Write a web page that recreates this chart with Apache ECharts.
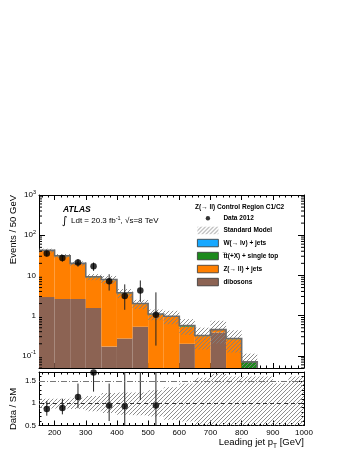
<!doctype html>
<html>
<head>
    <meta charset="utf-8">
    <title>Leading jet pT - Z control region</title>
    <script src="https://cdn.jsdelivr.net/npm/echarts@6/dist/echarts.min.js"></script>
    <style>
        html, body { margin: 0; padding: 0; background: #fff; }
    </style>
</head>
<body>
    <div id="main" style="width: 349px;height:451px;"></div>
</body>
<script type="text/javascript">
    // bin edges (GeV)
    var binEdges = [150, 200, 250, 300, 350, 400, 450, 500, 550, 600, 650, 700, 750, 800, 850, 900, 950, 1000];
    // stacked backgrounds, bottom to top
    var dibosons = [2.9, 2.6, 2.6, 1.55, 0.17, 0.27, 0.53, 0, 0, 0.2, 0, 0.38, 0, 0, 0, 0, 0];
    var zjets = [37.9, 27.5, 16.8, 7.45, 7.48, 3.33, 1.41, 1.07, 0.94, 0.33, 0.31, 0.06, 0.26, 0, 0, 0, 0];
    var ttbar = [1.2, 0.9, 0.6, 0.3, 0.25, 0.1, 0.06, 0.03, 0.03, 0.04, 0.01, 0.01, 0.01, 0.071, 0, 0, 0];
    var wjets = [0, 0, 0, 0, 0, 0, 0, 0, 0, 0, 0, 0, 0, 0, 0, 0, 0];
    // relative SM uncertainty (up / down)
    var relUp = [0.10, 0.10, 0.12, 0.16, 0.23, 0.24, 0.24, 0.29, 0.36, 0.44, 0.57, 0.66, 0.6, 0.6, 0.6, 0.45, 0.6];
    var relDn = [0.12, 0.12, 0.13, 0.18, 0.22, 0.26, 0.27, 0.30, 0.37, 0.41, 0.55, 0.55, 0.55, 0.55, 0.55, 0.55, 0.55];
    // data 2012
    var dataX = [175, 225, 275, 325, 375, 425, 475, 525];
    var dataY = [35, 27, 21, 17, 7.2, 3.1, 4.2, 1.05];
    var dataLo = [29.5, 22, 16.5, 13, 4.2, 1.4, 2.2, 0.18];
    var dataHi = [41, 32.5, 25.5, 21, 10.7, 6, 7.5, 3.8];
    // data / SM
    var ratioY = [0.87, 0.89, 1.14, 1.69, 0.95, 0.93, 2.1, 0.95];
    var ratioLo = [0.72, 0.75, 0.89, 1.26, 0.6, 0.4, 1.07, 0.1];
    var ratioHi = [1.05, 1.1, 1.44, 2.1, 1.44, 1.8, 3.2, 3.0];
    // axes
    var yMin = 0.05, yMax = 1000;
    var xMin = 150, xMax = 1000;
    var rMin = 0.5, rMax = 1.7;

    var FONT = 'Liberation Sans';

    function hatchPattern() {
        var c = document.createElement('canvas');
        c.width = 4; c.height = 4;
        var g = c.getContext('2d');
        g.strokeStyle = '#808080';
        g.lineWidth = 0.9;
        g.beginPath();
        g.moveTo(0, 4); g.lineTo(4, 0);
        g.moveTo(-1, 1); g.lineTo(1, -1);
        g.moveTo(3, 5); g.lineTo(5, 3);
        g.stroke();
        return { image: c, repeat: 'repeat' };
    }
    var hatch = hatchPattern();

    // build stacked rectangles
    var layers = [dibosons, zjets, ttbar, wjets];
    var cum = binEdges.slice(0, -1).map(function () { return 0; });
    var layerData = layers.map(function (vals) {
        var out = [];
        for (var i = 0; i < vals.length; i++) {
            var lo = cum[i], hi = cum[i] + vals[i];
            cum[i] = hi;
            if (vals[i] > 0 && hi > yMin) out.push([binEdges[i], binEdges[i + 1], Math.max(lo, yMin), hi]);
        }
        return out;
    });
    var total = cum.slice();

    var bandMain = [], bandRatio = [];
    for (var i = 0; i < total.length; i++) {
        if (total[i] > 0) bandMain.push([binEdges[i], binEdges[i + 1], total[i] * (1 - relDn[i]), total[i] * (1 + relUp[i])]);
        bandRatio.push([binEdges[i], binEdges[i + 1], 1 - relDn[i], 1 + relUp[i]]);
    }

    function renderBox(params, api) {
        var p1 = api.coord([api.value(0), api.value(3)]);
        var p2 = api.coord([api.value(1), api.value(2)]);
        return {
            type: 'rect',
            shape: { x: p1[0], y: p1[1], width: p2[0] - p1[0], height: p2[1] - p1[1] },
            style: api.style({ stroke: null })
        };
    }
    function renderErr(params, api) {
        var p1 = api.coord([api.value(0), api.value(1)]);
        var p2 = api.coord([api.value(0), api.value(2)]);
        return {
            type: 'line',
            shape: { x1: p1[0], y1: p1[1], x2: p2[0], y2: p2[1] },
            style: { stroke: '#222', lineWidth: 1 }
        };
    }
    function renderOutline(params, api) {
        var pts = [];
        var last = 0;
        for (var i = 0; i < total.length; i++) {
            if (total[i] <= 0) continue;
            pts.push(api.coord([binEdges[i], total[i]]));
            pts.push(api.coord([binEdges[i + 1], total[i]]));
            last = binEdges[i + 1];
        }
        pts.push(api.coord([last, yMin]));
        return { type: 'polyline', shape: { points: pts }, style: { stroke: '#6b6b6b', lineWidth: 1.6, fill: null } };
    }
    function renderLogMinor(params, api) {
        var kids = [];
        for (var k = -2; k <= 2; k++) {
            for (var m = 2; m <= 9; m++) {
                var v = m * Math.pow(10, k);
                if (v < yMin || v > yMax) continue;
                var pl = api.coord([xMin, v]), pr = api.coord([xMax, v]);
                kids.push({ type: 'line', shape: { x1: pl[0], y1: pl[1], x2: pl[0] + 3, y2: pl[1] }, style: { stroke: '#000', lineWidth: 1 } });
                kids.push({ type: 'line', shape: { x1: pr[0], y1: pr[1], x2: pr[0] - 3, y2: pr[1] }, style: { stroke: '#000', lineWidth: 1 } });
            }
        }
        return { type: 'group', children: kids };
    }

    function logLabel(v) {
        var l = Math.log10(v), e = Math.round(l);
        if (Math.abs(l - e) > 1e-6) return '';
        if (e === 0) return '1';
        if (e === 1) return '10';
        return '10{sup|' + e + '}';
    }
    function ratioLabel(v) {
        var r = Math.round(v * 10) / 10;
        if (r === 0.5) return '0.5';
        if (r === 1) return '1';
        if (r === 1.5) return '1.5';
        return '';
    }

    var frameLine = { show: true, onZero: false, lineStyle: { color: '#000', width: 1 } };
    function xAx(grid, pos, labels) {
        return {
            type: 'value', gridIndex: grid, position: pos, min: xMin, max: xMax, splitNumber: 8,
            axisLine: frameLine,
            axisTick: { show: true, inside: true, length: 5, lineStyle: { color: '#000' } },
            minorTick: { show: true, splitNumber: 5, length: 2.5, lineStyle: { color: '#000' } },
            axisLabel: labels ? {
                show: true, fontFamily: FONT, fontSize: 8, color: '#000', margin: 3, showMinLabel: false,
                formatter: function (v) { return String(Math.round(v)); }
            } : { show: false },
            splitLine: { show: false }
        };
    }
    function yLog(grid, pos, labels) {
        return {
            type: 'log', logBase: 10, gridIndex: grid, position: pos, min: yMin, max: yMax,
            axisLine: frameLine,
            axisTick: { show: true, inside: true, length: 6, lineStyle: { color: '#000' } },
            axisLabel: labels ? {
                show: true, fontFamily: FONT, fontSize: 8, color: '#000', margin: 3, showMinLabel: false,
                formatter: logLabel,
                rich: { sup: { fontFamily: FONT, fontSize: 5.5, verticalAlign: 'top', lineHeight: 12 } }
            } : { show: false },
            splitLine: { show: false }
        };
    }
    function yRatio(grid, pos, labels) {
        return {
            type: 'value', gridIndex: grid, position: pos, min: rMin, max: rMax, interval: 0.5,
            axisLine: frameLine,
            axisTick: { show: true, inside: true, length: 5, lineStyle: { color: '#000' } },
            minorTick: { show: true, splitNumber: 5, length: 2.5, lineStyle: { color: '#000' } },
            axisLabel: labels ? { show: true, fontFamily: FONT, fontSize: 8, color: '#000', margin: 3, formatter: ratioLabel } : { show: false },
            splitLine: { show: false }
        };
    }

    var chart = echarts.init(document.getElementById('main'));
    var option = {
        animation: false,
        backgroundColor: '#fff',
        title: {
            text: 'Z(\u2192 ll) Control Region C1/C2',
            left: 195, top: 203.5, padding: 0,
            textStyle: { fontFamily: FONT, fontSize: 6.5, fontWeight: 'bold', color: '#000' }
        },
        legend: {
            orient: 'vertical', left: 197, top: 214.5, padding: 0,
            itemWidth: 21, itemHeight: 7.5, itemGap: 4.7,
            textStyle: { fontFamily: FONT, fontSize: 6.5, lineHeight: 7.5, fontWeight: 'bold', color: '#000' },
            selectedMode: false,
            data: [
                // small dot inside a larger invisible box
                { name: 'Data 2012', icon: 'path://M0 0M12 12M2.5 6A3.5 3.5 0 1 0 9.5 6A3.5 3.5 0 1 0 2.5 6Z' },
                { name: 'Standard Model', icon: 'rect' },
                { name: 'W(\u2192 l\u03bd) + jets', icon: 'rect', itemStyle: { borderColor: '#333', borderWidth: 0.8 } },
                { name: 't\u0305t(+X) + single top', icon: 'rect', itemStyle: { borderColor: '#333', borderWidth: 0.8 } },
                { name: 'Z(\u2192 ll) + jets', icon: 'rect', itemStyle: { borderColor: '#333', borderWidth: 0.8 } },
                { name: 'dibosons', icon: 'rect', itemStyle: { borderColor: '#333', borderWidth: 0.8 } }
            ]
        },
        grid: [
            { left: 39, right: 45, top: 195, height: 173, outerBoundsMode: 'none' },
            { left: 39, right: 45, top: 372, height: 53.5, outerBoundsMode: 'none' }
        ],
        xAxis: [xAx(0, 'bottom', false), xAx(0, 'top', false), xAx(1, 'bottom', true), xAx(1, 'top', false)],
        yAxis: [yLog(0, 'left', true), yLog(0, 'right', false), yRatio(1, 'left', true), yRatio(1, 'right', false)],
        graphic: [
            { type: 'text', x: 13, y: 195, rotation: Math.PI / 2,
              style: { text: 'Events / 50 GeV', fontFamily: FONT, fontSize: 9.5, fill: '#000', align: 'right', verticalAlign: 'middle' } },
            { type: 'text', x: 13, y: 409, rotation: Math.PI / 2,
              style: { text: 'Data / SM', fontFamily: FONT, fontSize: 9.5, fill: '#000', align: 'center', verticalAlign: 'middle' } },
            { type: 'text', x: 304, y: 442,
              style: { text: 'Leading jet p{sub|T} [GeV]', fontFamily: FONT, fontSize: 9.5, fill: '#000', align: 'right', verticalAlign: 'middle',
                       rich: { sub: { fontFamily: FONT, fontSize: 6.5, verticalAlign: 'bottom', lineHeight: 15 } } } },
            { type: 'text', x: 63, y: 209.5,
              style: { text: 'ATLAS', fontFamily: FONT, fontSize: 8.5, fontWeight: 'bold', fontStyle: 'italic', fill: '#000', verticalAlign: 'middle' } },
            { type: 'text', x: 62, y: 221,
              style: { text: '\u222b', fontFamily: 'DejaVu Sans', fontSize: 11, fill: '#000', verticalAlign: 'middle' } },
            { type: 'text', x: 71, y: 221,
              style: { text: 'Ldt = 20.3 fb{sup|-1}, \u221as=8 TeV', fontFamily: FONT, fontSize: 8, fill: '#000', verticalAlign: 'middle',
                       rich: { sup: { fontFamily: FONT, fontSize: 5.5, verticalAlign: 'top', lineHeight: 12 } } } }
        ],
        series: [
            { name: 'dibosons', type: 'custom', xAxisIndex: 0, yAxisIndex: 0, clip: true, renderItem: renderBox,
              itemStyle: { color: '#8c6353' }, encode: { x: [0, 1], y: [2, 3] }, data: layerData[0] },
            { name: 'Z(\u2192 ll) + jets', type: 'custom', xAxisIndex: 0, yAxisIndex: 0, clip: true, renderItem: renderBox,
              itemStyle: { color: '#ff7f00' }, encode: { x: [0, 1], y: [2, 3] }, data: layerData[1] },
            { name: 't\u0305t(+X) + single top', type: 'custom', xAxisIndex: 0, yAxisIndex: 0, clip: true, renderItem: renderBox,
              itemStyle: { color: '#1c8a1c' }, encode: { x: [0, 1], y: [2, 3] }, data: layerData[2] },
            { name: 'W(\u2192 l\u03bd) + jets', type: 'custom', xAxisIndex: 0, yAxisIndex: 0, clip: true, renderItem: renderBox,
              itemStyle: { color: '#17a8ff' }, encode: { x: [0, 1], y: [2, 3] }, data: layerData[3] },
            { name: 'Standard Model', type: 'custom', xAxisIndex: 0, yAxisIndex: 0, clip: true, renderItem: renderBox,
              itemStyle: { color: hatch }, encode: { x: [0, 1], y: [2, 3] }, data: bandMain },
            { type: 'custom', xAxisIndex: 0, yAxisIndex: 0, clip: true, renderItem: renderOutline, silent: true, data: [[xMin, 1]] },
            { type: 'custom', xAxisIndex: 0, yAxisIndex: 0, clip: true, renderItem: renderErr, silent: true,
              data: dataX.map(function (x, i) { return [x, dataLo[i], dataHi[i]]; }) },
            { name: 'Data 2012', type: 'scatter', xAxisIndex: 0, yAxisIndex: 0, symbol: 'circle', symbolSize: 6.5,
              itemStyle: { color: '#000' }, data: dataX.map(function (x, i) { return [x, dataY[i]]; }) },
            { type: 'custom', xAxisIndex: 0, yAxisIndex: 0, clip: false, renderItem: renderLogMinor, silent: true, data: [[xMin, 1]] },
            // ratio panel
            { type: 'custom', xAxisIndex: 2, yAxisIndex: 2, clip: true, renderItem: renderBox, silent: true,
              itemStyle: { color: hatch }, encode: { x: [0, 1], y: [2, 3] }, data: bandRatio,
              markLine: {
                  silent: true, symbol: 'none', label: { show: false },
                  data: [
                      { yAxis: 1, lineStyle: { color: '#333', width: 1, type: [4, 3] } },
                      { yAxis: 1.5, lineStyle: { color: '#777', width: 1, type: [6, 2, 1, 2] } }
                  ]
              } },
            { type: 'custom', xAxisIndex: 2, yAxisIndex: 2, clip: true, renderItem: renderErr, silent: true,
              data: dataX.map(function (x, i) { return [x, ratioLo[i], ratioHi[i]]; }) },
            { type: 'scatter', xAxisIndex: 2, yAxisIndex: 2, symbol: 'circle', symbolSize: 6.5, clip: true,
              itemStyle: { color: '#000' }, data: dataX.map(function (x, i) { return [x, ratioY[i]]; }) }
        ]
    };
    chart.setOption(option);
</script>
</html>
